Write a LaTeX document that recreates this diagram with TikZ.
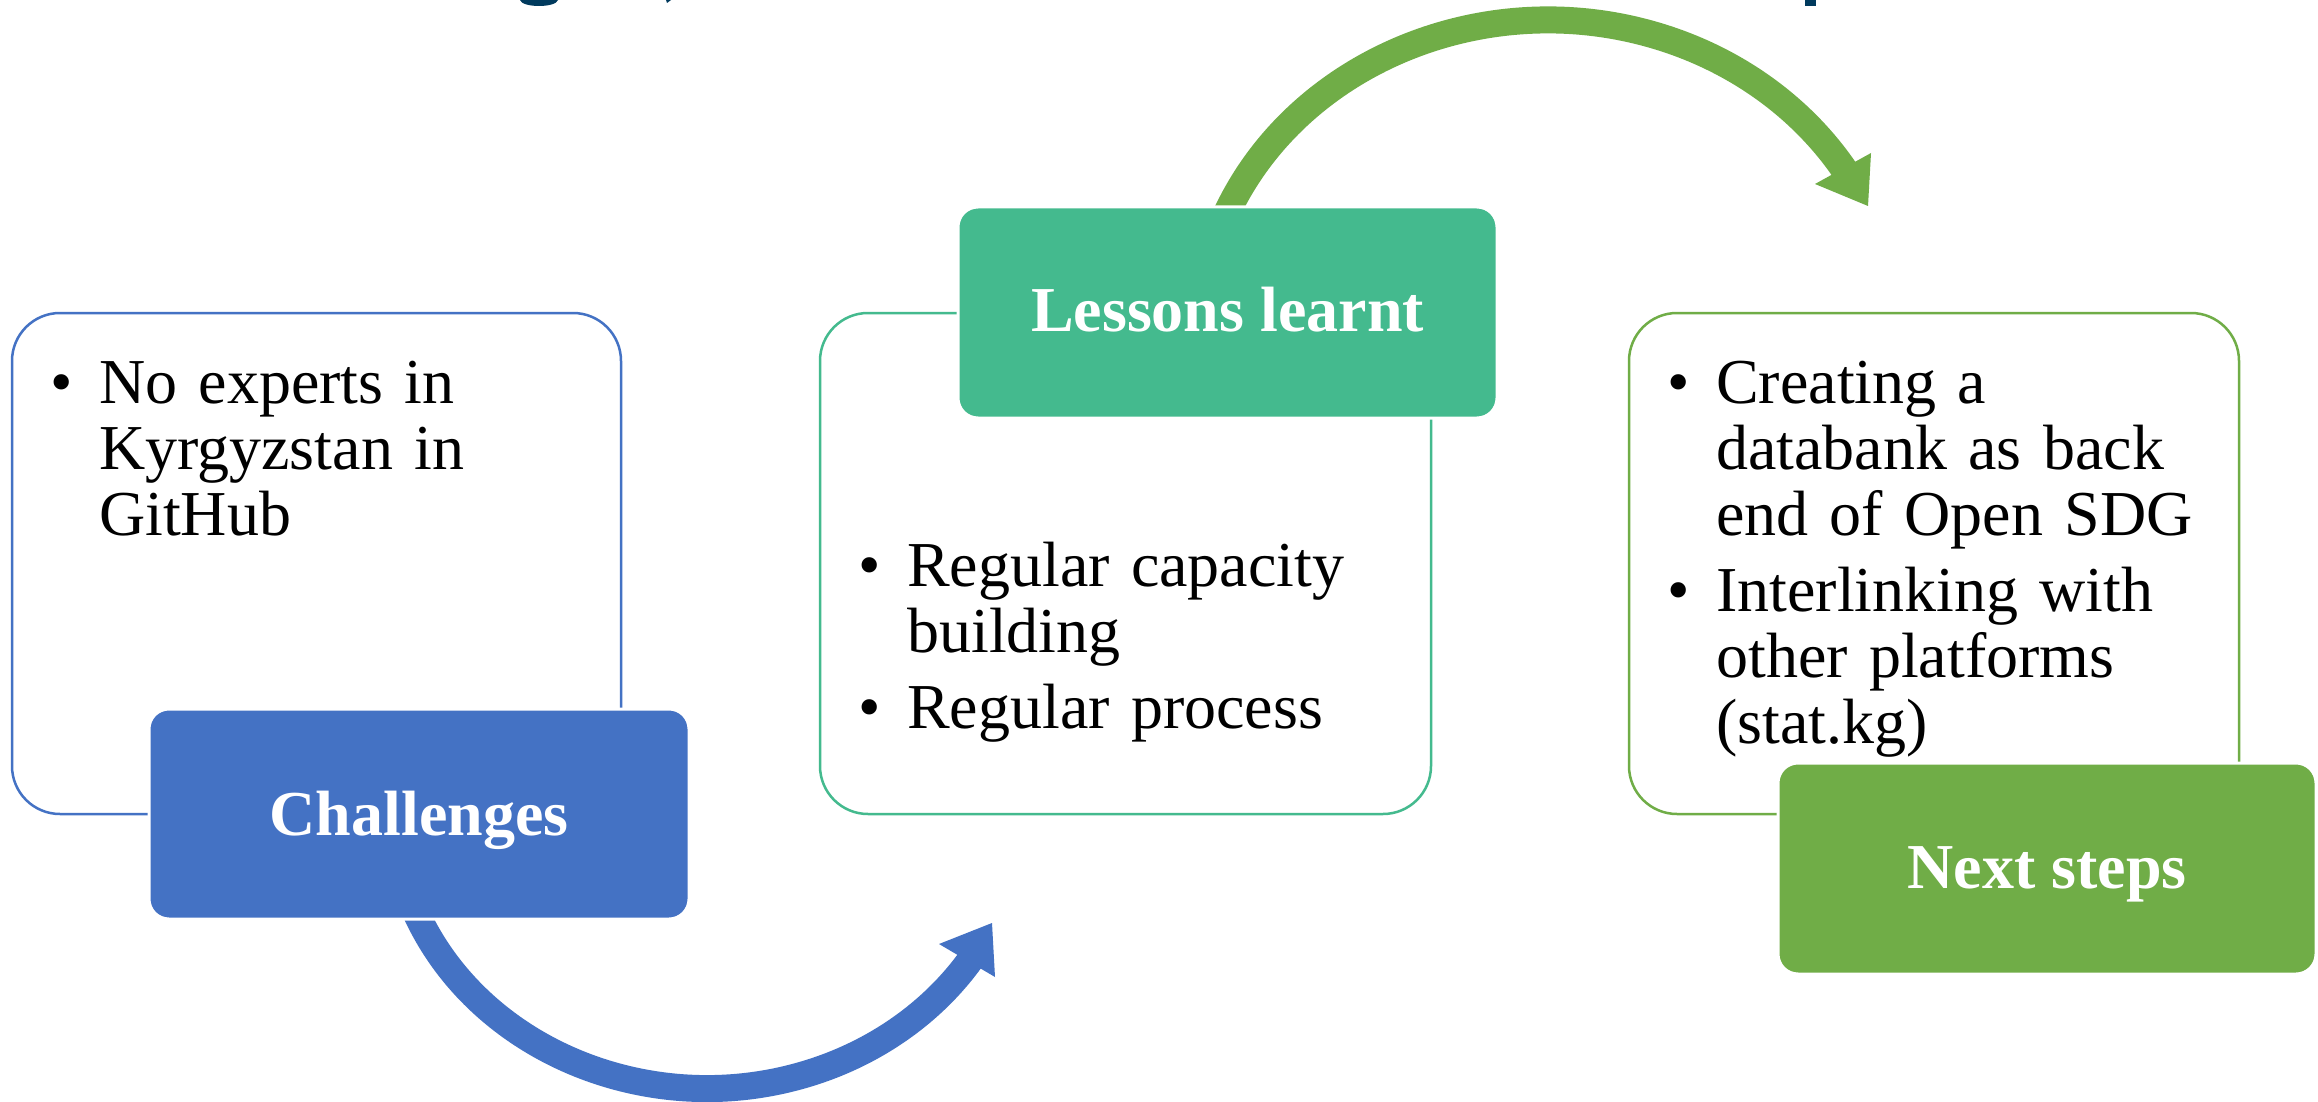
\documentclass[tikz,border=0pt]{standalone}
\usepackage{fontspec}
\setmainfont{Liberation Serif}
\definecolor{cblue}{RGB}{68,114,196}
\definecolor{cteal}{RGB}{68,186,142}
\definecolor{cgreen}{RGB}{112,173,71}
\definecolor{cnavy}{RGB}{0,58,93}
\newcommand\bitem[1]{\hangindent=49pt\hangafter=1\noindent\makebox[49pt][l]{\textbullet}#1\par}
\begin{document}
\begin{tikzpicture}[x=1pt,y=-1pt,
  outline/.style={draw=#1, line width=2.5pt, rounded corners=48pt, inner sep=0pt, outer sep=0pt},
  filledbox/.style={fill=#1, draw=white, line width=3pt, rounded corners=20pt, inner sep=0pt, outer sep=0pt},
  heading/.style={text=white, anchor=base, inner sep=0pt, font=\fontsize{64}{66}\selectfont\bfseries},
  bullets/.style={anchor=base west, inner sep=0pt, text width=560pt, align=left, font=\fontsize{64}{66}\selectfont},
  band/.style={draw=#1, line width=27pt},
  headtip/.style={fill=#1}
]
\fill[white] (0,0) rectangle (2318,1102);
\useasboundingbox (0,0) rectangle (2318,1102);

% cut-off title fragments at the top edge
\fill[cnavy] (520,0) .. controls (522,8) and (556,8) .. (558,0) -- cycle;
\fill[cnavy] (666,0) -- (671,0) -- (667,3) -- cycle;
\fill[cnavy] (1805,0) rectangle (1816,6);

% curved arrows
\coordinate (bluectr) at (707,803.5);
\coordinate (greenctr) at (1548,340);
\draw[band=cblue] (bluectr) ++(160:315 and 285) arc[start angle=160, end angle=31, x radius=315, y radius=285];
\coordinate (bluetip) at (992,923);
\coordinate (bluebarbA) at (939,944);
\coordinate (bluebarbB) at (995,977);
\fill[headtip=cblue] (bluebarbA) -- (bluetip) -- (bluebarbB) -- cycle;

\draw[band=cgreen] (greenctr) ++(200:350 and 320) arc[start angle=200, end angle=330, x radius=350, y radius=320];
\coordinate (greentip) at (1868,206);
\coordinate (greenbarbA) at (1815,184);
\coordinate (greenbarbB) at (1871,153);
\fill[headtip=cgreen] (greenbarbA) -- (greentip) -- (greenbarbB) -- cycle;

% outlined content boxes
\node[outline=cblue, minimum width=609pt, minimum height=501pt] (b1) at (316.5,563.5) {};
\node[outline=cteal, minimum width=611pt, minimum height=501pt] (b2) at (1125.5,563.5) {};
\node[outline=cgreen, minimum width=610pt, minimum height=501pt] (b3) at (1934,563.5) {};

% filled heading boxes
\node[filledbox=cblue, minimum width=540pt, minimum height=210pt] (h1) at (419,814) {};
\node[filledbox=cteal, minimum width=539pt, minimum height=211pt] (h2) at (1227.5,312.5) {};
\node[filledbox=cgreen, minimum width=538pt, minimum height=211pt] (h3) at (2047,868.5) {};

\node[heading] (t1h) at (419,835) {Challenges};
\node[heading] (t2h) at (1227.5,331) {Lessons learnt};
\node[heading] (t3h) at (2047,888) {Next steps};

% bullet texts
\node[bullets] (t1) at (50,403) {\bitem{No experts in\newline Kyrgyzstan in\newline GitHub}};
\node[bullets] (t2) at (858,586) {\bitem{Regular capacity\newline building}\vspace{10pt}\bitem{Regular process}};
\node[bullets] (t3) at (1667,403) {\bitem{Creating a\newline databank as back\newline end of Open SDG}\vspace{10pt}\bitem{Interlinking with\newline other platforms\newline (stat.kg)}};
\end{tikzpicture}
\end{document}
